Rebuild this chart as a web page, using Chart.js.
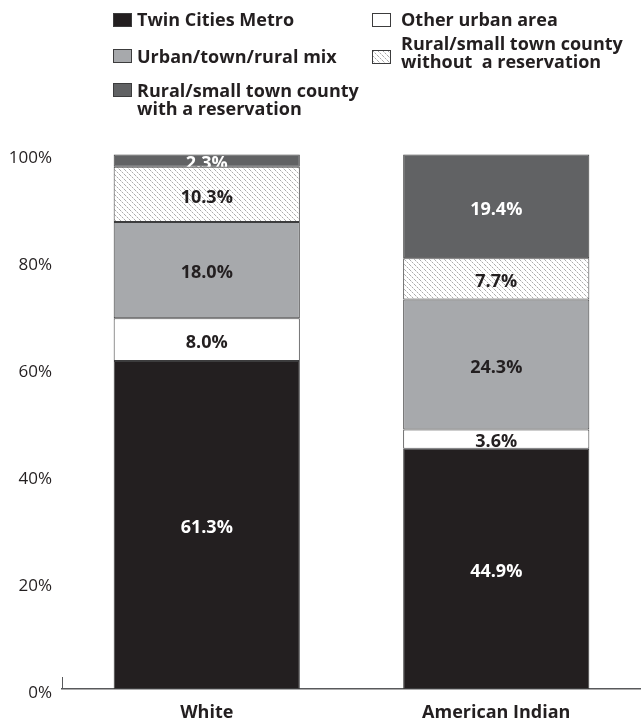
<!DOCTYPE html>
<html>
<head>
<meta charset="utf-8">
<script src="https://cdn.jsdelivr.net/npm/chart.js@4.4.1/dist/chart.umd.min.js"></script>
<style>
  body { margin: 0; background: #fff; }
  #wrap { position: relative; width: 641px; height: 723px; }
  #wrap canvas { position: absolute; left: 0; top: 0; }
  .legend-item { position: absolute; font: bold 18px "Open Sans", sans-serif; line-height: 18px; color: #231f20; white-space: pre; }
  .swatch { position: absolute; width: 19px; height: 14px; border: 1px solid #3c3c3d; box-sizing: border-box; }
</style>
</head>
<body>
<div id="wrap">
  <canvas id="regionChart" width="641" height="723"></canvas>
  <div id="legend"></div>
</div>
<script>
// categories and shares (percent), stacked bottom to top
var categories = ['White', 'American Indian'];
var seriesNames = [
  'Twin Cities Metro',
  'Other urban area',
  'Urban/town/rural mix',
  'Rural/small town county\nwithout  a reservation',
  'Rural/small town county\nwith a reservation'
];
var twinCities = [61.3, 44.9];
var otherUrban = [8.0, 3.6];
var urbanMix = [18.0, 24.3];
var ruralNoRes = [10.3, 7.7];
var ruralRes = [2.3, 19.4];
var yTicks = [0, 20, 40, 60, 80, 100];

var seriesData = [twinCities, otherUrban, urbanMix, ruralNoRes, ruralRes];

var FONT = '"Open Sans"';

// hatch fill for the "without a reservation" band
function makeHatch() {
  var c = document.createElement('canvas');
  c.width = 5; c.height = 5;
  var g = c.getContext('2d');
  g.fillStyle = '#ffffff';
  g.fillRect(0, 0, 5, 5);
  for (var i = 0; i < 5; i++) {
    g.fillStyle = (i % 2 === 0) ? '#ababab' : '#dcdcdc';
    g.fillRect(i, i, 1, 1);
  }
  return c;
}
var hatchCanvas = makeHatch();
var hatch = hatchCanvas.getContext('2d').createPattern(hatchCanvas, 'repeat');

var fills = ['#231f20', '#ffffff', '#a7a9ac', hatch, '#616264'];
var labelColors = ['#ffffff', '#231f20', '#231f20', '#231f20', '#ffffff'];

// value labels, clipped to their own segment
var segmentLabels = {
  id: 'segmentLabels',
  afterDatasetsDraw: function (chart) {
    var ctx = chart.ctx;
    chart.data.datasets.forEach(function (ds, i) {
      chart.getDatasetMeta(i).data.forEach(function (bar, j) {
        var p = bar.getProps(['x', 'y', 'base', 'width'], true);
        ctx.save();
        ctx.beginPath();
        ctx.rect(p.x - p.width / 2, p.y, p.width, p.base - p.y);
        ctx.clip();
        ctx.font = 'bold 18px ' + FONT;
        ctx.fillStyle = labelColors[i];
        ctx.textAlign = 'center';
        ctx.textBaseline = 'middle';
        ctx.fillText(ds.data[j].toFixed(1) + '%', p.x, (p.y + p.base) / 2 + 3);
        ctx.restore();
      });
    });
  },
  // little upright tick where the base line starts
  afterDraw: function (chart) {
    var ctx = chart.ctx;
    var y0 = chart.scales.y.getPixelForValue(0);
    var x0 = chart.chartArea.left + 0.5;
    ctx.save();
    ctx.strokeStyle = '#58595b';
    ctx.lineWidth = 1;
    ctx.beginPath();
    ctx.moveTo(x0, y0 - 12);
    ctx.lineTo(x0, y0);
    ctx.stroke();
    ctx.restore();
  }
};

function buildChart() {
  var datasets = seriesNames.map(function (name, i) {
    return {
      label: name,
      data: seriesData[i],
      backgroundColor: fills[i],
      borderColor: '#3c3c3d',
      borderWidth: 1,
      borderSkipped: false,
      barPercentage: 0.643,
      categoryPercentage: 1
    };
  });

  new Chart(document.getElementById('regionChart'), {
    type: 'bar',
    data: { labels: categories, datasets: datasets },
    plugins: [segmentLabels],
    options: {
      responsive: false,
      devicePixelRatio: 1,
      animation: false,
      layout: { padding: { top: 154, left: 0, right: 0, bottom: 0 } },
      plugins: { legend: { display: false }, tooltip: { enabled: false } },
      scales: {
        x: {
          stacked: true,
          grid: { display: false, drawTicks: false },
          border: { display: true, color: '#58595b', width: 1.5 },
          ticks: { color: '#231f20', font: { family: FONT, size: 18, weight: 'bold' }, padding: 13 },
          afterFit: function (s) { s.height = 34; }
        },
        y: {
          stacked: true,
          min: 0,
          max: 100,
          grid: { display: false, drawTicks: false },
          border: { display: false },
          afterBuildTicks: function (s) { s.ticks = yTicks.map(function (v) { return { value: v }; }); },
          ticks: {
            color: '#231f20',
            font: { family: FONT, size: 17 },
            padding: 10,
            labelOffset: 4,
            callback: function (v) { return v + '%'; }
          },
          afterFit: function (s) { s.width = 62; }
        }
      }
    }
  });

  // legend in two columns
  var slots = [
    { x: 113, y: 10, dx: 24, sq: 3 },
    { x: 372, y: 10, dx: 29, sq: 3 },
    { x: 113, y: 47, dx: 24, sq: 2 },
    { x: 372, y: 34, dx: 29, sq: 16 },
    { x: 113, y: 81, dx: 24, sq: 2 }
  ];
  var legend = document.getElementById('legend');
  seriesNames.forEach(function (name, i) {
    var s = slots[i];
    var item = document.createElement('div');
    item.className = 'legend-item';
    item.style.left = s.x + 'px';
    item.style.top = s.y + 'px';
    var sw = document.createElement('span');
    sw.className = 'swatch';
    sw.style.left = '0px';
    sw.style.top = s.sq + 'px';
    if (typeof fills[i] === 'string') sw.style.background = fills[i];
    else sw.style.backgroundImage = 'url(' + hatchCanvas.toDataURL() + ')';
    var txt = document.createElement('span');
    txt.style.marginLeft = s.dx + 'px';
    txt.style.display = 'inline-block';
    txt.textContent = name;
    item.appendChild(sw);
    item.appendChild(txt);
    legend.appendChild(item);
  });
}

if (document.fonts && document.fonts.load) {
  Promise.all([document.fonts.load('bold 18px "Open Sans"'), document.fonts.load('17px "Open Sans"')])
    .then(buildChart, buildChart);
} else {
  buildChart();
}
</script>
</body>
</html>
